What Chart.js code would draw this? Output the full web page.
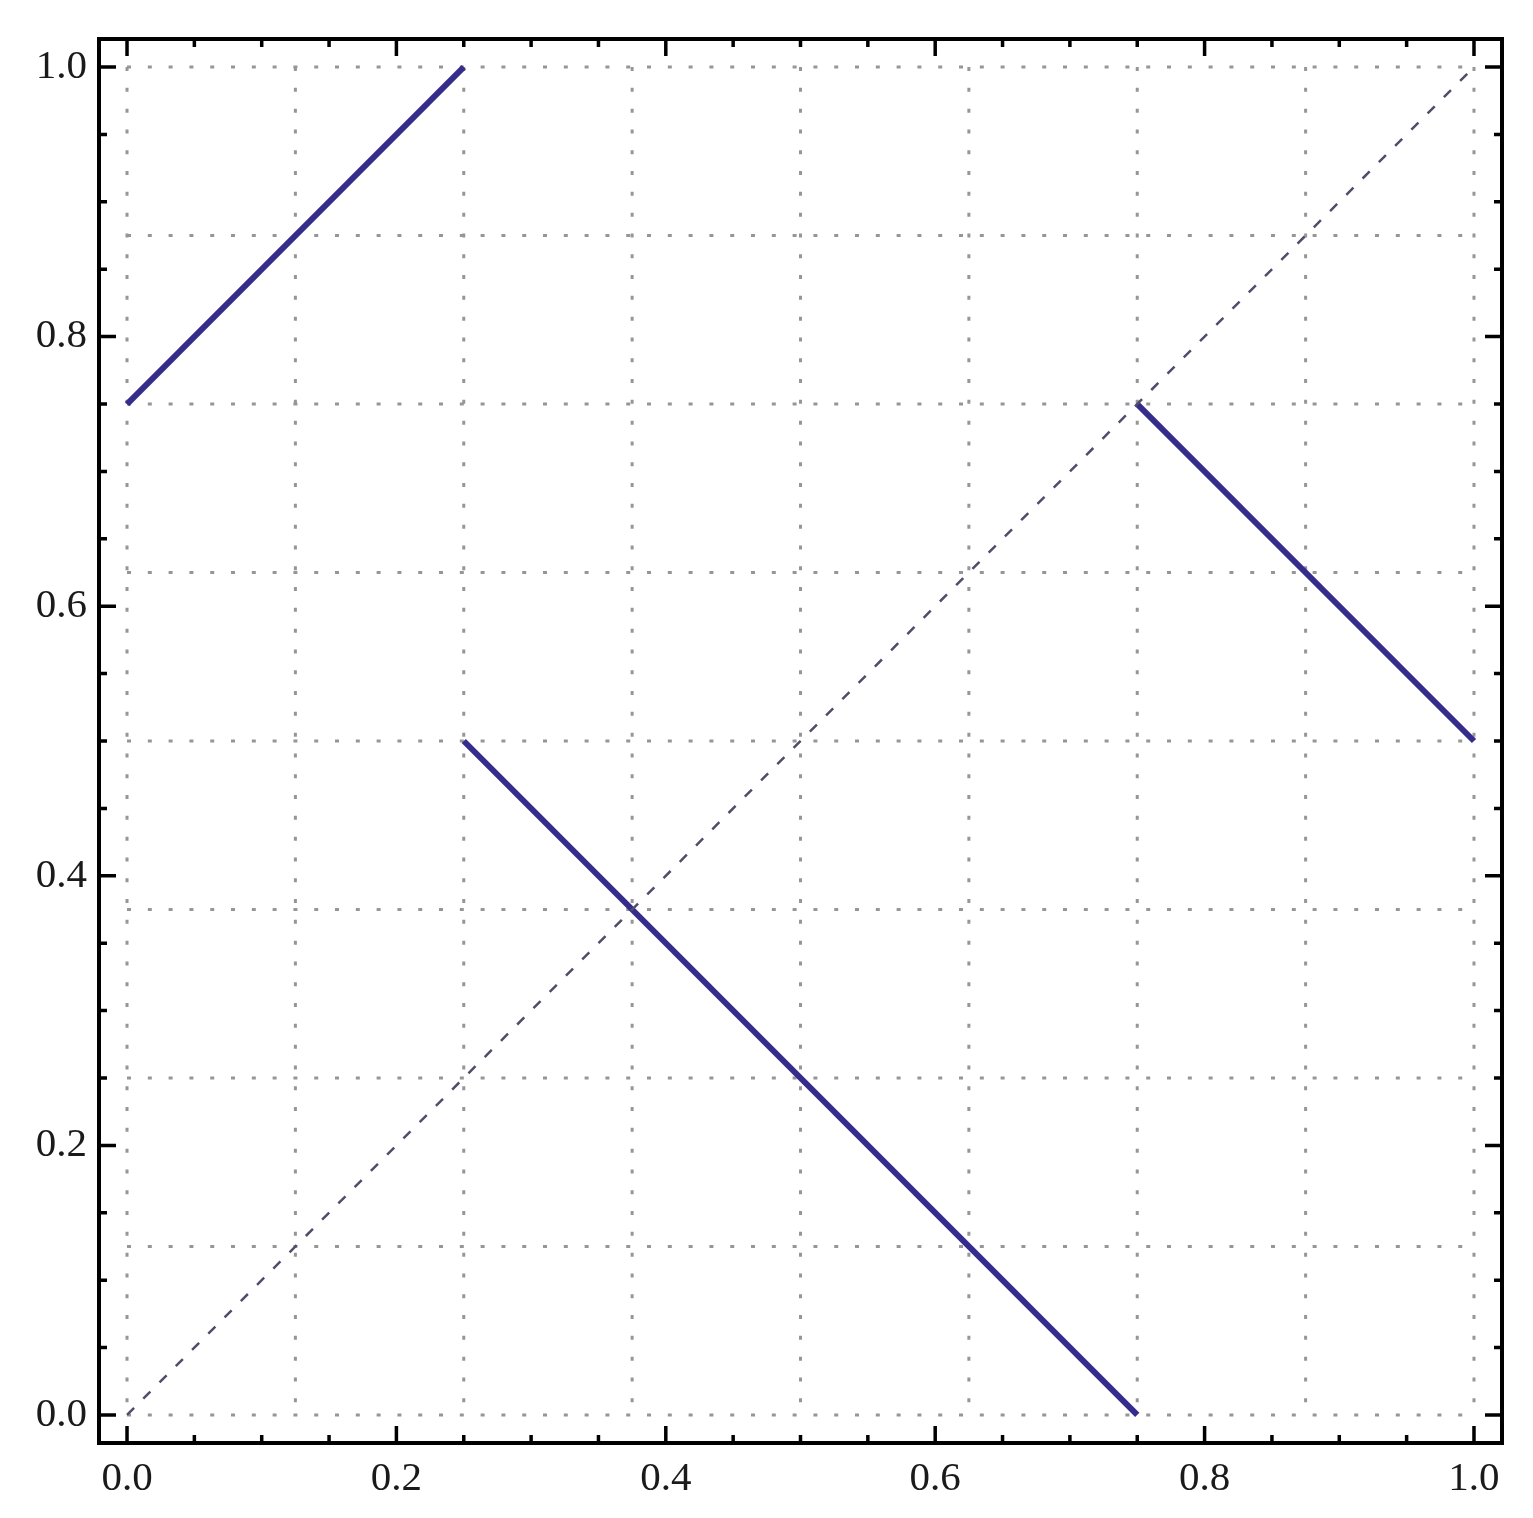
<!DOCTYPE html>
<html>
<head>
<meta charset="utf-8">
<script src="https://cdn.jsdelivr.net/npm/chart.js@4/dist/chart.umd.min.js"></script>
<style>
    html, body { margin: 0; padding: 0; background: #ffffff; }
    #wrap { width: 1533px; height: 1518px; }
</style>
</head>
<body>
<div id="wrap"><canvas id="chart" width="1533" height="1518"></canvas></div>
<script>
// Data.
const seg_x = [[0, 0.25], [0.25, 0.75], [0.75, 1]];
const seg_y = [[0.75, 1], [0.5, 0], [0.75, 0.5]];
const diag_x = [0, 1];
const diag_y = [0, 1];

// Ticks and grid.
const tick_labels = [0, 0.2, 0.4, 0.6, 0.8, 1.0];
const minor_ticks = [0, 0.05, 0.1, 0.15, 0.2, 0.25, 0.3, 0.35, 0.4, 0.45, 0.5, 0.55, 0.6, 0.65, 0.7, 0.75, 0.8, 0.85, 0.9, 0.95, 1.0];
const grid_values = [0, 0.125, 0.25, 0.375, 0.5, 0.625, 0.75, 0.875, 1.0];
const axis_min = -0.0208;
const axis_max = 1.0208;

function to_points(xs, ys) {
    return xs.map((x, i) => ({ x: x, y: ys[i] }));
}

// Dotted grid lines, drawn only over 0..1.
const grid_plugin = {
    id: 'grid_plugin',
    beforeDatasetsDraw(chart) {
        const ctx = chart.ctx;
        const sx = chart.scales.x, sy = chart.scales.y;
        const x0 = sx.getPixelForValue(0), x1 = sx.getPixelForValue(1);
        const y0 = sy.getPixelForValue(0), y1 = sy.getPixelForValue(1);
        ctx.save();
        ctx.strokeStyle = '#969696';
        ctx.lineWidth = 3;
        ctx.setLineDash([4, 16.8]);
        grid_values.forEach((v) => {
            const px = sx.getPixelForValue(v);
            ctx.beginPath();
            ctx.moveTo(px, y1);
            ctx.lineTo(px, y0 + 2);
            ctx.stroke();
            const py = sy.getPixelForValue(v);
            ctx.beginPath();
            ctx.moveTo(x0, py);
            ctx.lineTo(x1 + 2, py);
            ctx.stroke();
        });
        ctx.restore();
    }
};

// Frame and inside ticks on all four sides.
const frame_plugin = {
    id: 'frame_plugin',
    afterDraw(chart) {
        const ctx = chart.ctx;
        const a = chart.chartArea;
        const sx = chart.scales.x, sy = chart.scales.y;
        ctx.save();
        ctx.strokeStyle = '#000000';
        ctx.lineWidth = 3.5;
        minor_ticks.forEach((v) => {
            const major = tick_labels.some((t) => Math.abs(t - v) < 1e-9);
            const len = major ? 17 : 8;
            const px = sx.getPixelForValue(v);
            const py = sy.getPixelForValue(v);
            ctx.beginPath();
            ctx.moveTo(px, a.bottom); ctx.lineTo(px, a.bottom - len);
            ctx.moveTo(px, a.top); ctx.lineTo(px, a.top + len);
            ctx.moveTo(a.left, py); ctx.lineTo(a.left + len, py);
            ctx.moveTo(a.right, py); ctx.lineTo(a.right - len, py);
            ctx.stroke();
        });
        ctx.lineWidth = 4;
        ctx.strokeRect(a.left, a.top, a.right - a.left, a.bottom - a.top);
        ctx.restore();
    }
};

// Datasets.
const datasets = [{
    data: to_points(diag_x, diag_y),
    borderColor: '#4e4e6c',
    borderWidth: 2.5,
    borderDash: [10, 13],
    pointRadius: 0,
    showLine: true,
}];

seg_x.forEach((xs, i) => {
    datasets.push({
        data: to_points(xs, seg_y[i]),
        borderColor: '#352c8c',
        borderWidth: 6,
        pointRadius: 0,
        showLine: true,
    });
});

function axis(pos) {
    return {
        type: 'linear',
        position: pos,
        min: axis_min,
        max: axis_max,
        grid: { display: false, drawTicks: false },
        border: { display: false },
        afterBuildTicks: (scale) => {
            scale.ticks = tick_labels.map((v) => ({ value: v }));
        },
        ticks: {
            padding: 12,
            color: '#1a1a1a',
            font: { family: 'Liberation Serif', size: 41 },
            callback: (v) => Number(v).toFixed(1),
            maxRotation: 0,
            autoSkip: false,
        },
        afterFit: (scale) => {
            if (pos === 'bottom') scale.height = 75;
            else scale.width = 66;
        },
    };
}

// Draw graph.
new Chart(document.getElementById('chart'), {
    type: 'scatter',
    data: { datasets: datasets },
    options: {
        responsive: false,
        animation: false,
        layout: { padding: { left: 33, top: 39, right: 31, bottom: 0 } },
        plugins: { legend: { display: false }, tooltip: { enabled: false } },
        scales: {
            x: axis('bottom'),
            y: axis('left'),
        },
    },
    plugins: [grid_plugin, frame_plugin],
});
</script>
</body>
</html>
